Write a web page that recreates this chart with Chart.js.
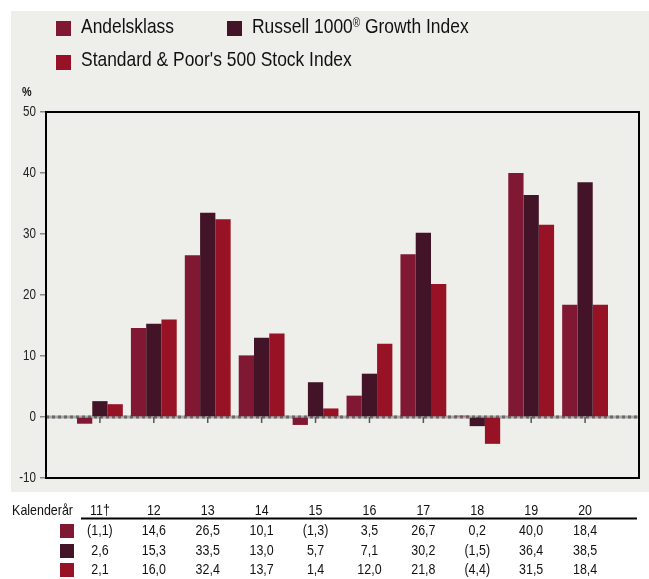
<!DOCTYPE html>
<html>
<head>
<meta charset="utf-8">
<title>Kalenderårsavkastning</title>
<script src="https://cdn.jsdelivr.net/npm/chart.js@4.4.1/dist/chart.umd.min.js"></script>
<style>
    html, body { margin: 0; padding: 0; background: #fff; }
    #wrap { position: relative; width: 649px; height: 579px; }
</style>
</head>
<body>
<div id="wrap"><canvas id="returnsChart" width="649" height="579"></canvas></div>
<script>
// Kalenderår and returns (%) per series
const years = ['11†', '12', '13', '14', '15', '16', '17', '18', '19', '20'];
const seriesNames = ['Andelsklass', 'Russell 1000® Growth Index', "Standard & Poor's 500 Stock Index"];
const andelsklass = [-1.1, 14.6, 26.5, 10.1, -1.3, 3.5, 26.7, 0.2, 40.0, 18.4];
const russell1000Growth = [2.6, 15.3, 33.5, 13.0, 5.7, 7.1, 30.2, -1.5, 36.4, 38.5];
const sp500 = [2.1, 16.0, 32.4, 13.7, 1.4, 12.0, 21.8, -4.4, 31.5, 18.4];
const yTicks = [50, 40, 30, 20, 10, 0, -10];

const seriesColors = ['#801733', '#431428', '#971224'];
const FONT = '"Liberation Sans", Arial, sans-serif';
const NARROW = 0.83; // no narrow face installed, squeeze text instead

// 1,1 style with brackets for negatives
function fmt(v) {
    const s = Math.abs(v).toFixed(1).replace('.', ',');
    return v < 0 ? '(' + s + ')' : s;
}

// draws condensed text, returns its drawn width
function drawText(ctx, text, x, y, font, align, baseline) {
    ctx.save();
    ctx.font = font;
    ctx.textAlign = align || 'left';
    ctx.textBaseline = baseline || 'alphabetic';
    ctx.translate(x, y);
    ctx.scale(NARROW, 1);
    ctx.fillText(text, 0, 0);
    const w = ctx.measureText(text).width * NARROW;
    ctx.restore();
    return w;
}

const decorPlugin = {
    id: 'decor',
    beforeDraw(chart) {
        const ctx = chart.ctx;
        ctx.save();
        ctx.fillStyle = '#ffffff';
        ctx.fillRect(0, 0, chart.width, chart.height);
        ctx.fillStyle = '#eeeeea';
        ctx.fillRect(11, 11, 638, 481);
        ctx.restore();
    },
    beforeDatasetsDraw(chart) {
        const ctx = chart.ctx;
        const area = chart.chartArea;
        const x = chart.scales.x;
        const y = chart.scales.y;
        const y0 = y.getPixelForValue(0);
        ctx.save();
        // zero line
        ctx.lineWidth = 3;
        ctx.strokeStyle = '#a9a9a7';
        ctx.beginPath();
        ctx.moveTo(area.left, y0);
        ctx.lineTo(area.right, y0);
        ctx.stroke();
        ctx.setLineDash([3, 3]);
        ctx.strokeStyle = '#6a6a6a';
        ctx.stroke();
        ctx.setLineDash([]);
        // category ticks
        ctx.lineWidth = 1.5;
        ctx.strokeStyle = '#555';
        years.forEach((_, i) => {
            const px = x.getPixelForValue(i);
            ctx.beginPath();
            ctx.moveTo(px, y0);
            ctx.lineTo(px, y0 + 6);
            ctx.stroke();
        });
        ctx.restore();

        // y tick labels
        ctx.fillStyle = '#222';
        y.ticks.forEach(t => {
            drawText(ctx, String(t.value), area.left - 10, y.getPixelForValue(t.value), '14px ' + FONT, 'right', 'middle');
        });
    },
    afterDraw(chart) {
        const ctx = chart.ctx;
        const area = chart.chartArea;
        const x = chart.scales.x;
        ctx.save();

        // plot frame
        ctx.lineWidth = 2;
        ctx.strokeStyle = '#000';
        ctx.strokeRect(area.left, area.top, area.right - area.left, area.bottom - area.top);

        // legend
        const legendPos = [[56, 21, 33], [227, 21, 33], [56, 55, 66]];
        seriesNames.forEach((name, i) => {
            const [bx, by, base] = legendPos[i];
            ctx.fillStyle = seriesColors[i];
            ctx.fillRect(bx, by, 15, 15);
            ctx.fillStyle = '#111';
            let tx = bx + 25;
            const parts = name.split('®');
            tx += drawText(ctx, parts[0], tx, base, '21px ' + FONT);
            if (parts.length > 1) {
                tx += drawText(ctx, '®', tx, base - 6, '12px ' + FONT);
                drawText(ctx, parts[1], tx, base, '21px ' + FONT);
            }
        });

        // unit label
        ctx.fillStyle = '#111';
        drawText(ctx, '%', 22, 96, 'bold 13px ' + FONT);

        // table under the chart
        const tf = '15px ' + FONT;
        drawText(ctx, 'Kalenderår', 73, 511, tf, 'right', 'middle');
        years.forEach((yr, i) => drawText(ctx, yr, x.getPixelForValue(i), 511, tf, 'center', 'middle'));

        ctx.lineWidth = 2;
        ctx.strokeStyle = '#000';
        ctx.beginPath();
        ctx.moveTo(81, 518.5);
        ctx.lineTo(637, 518.5);
        ctx.stroke();

        const rows = [andelsklass, russell1000Growth, sp500];
        const rowY = [531, 551, 570];
        rows.forEach((vals, r) => {
            ctx.fillStyle = seriesColors[r];
            ctx.fillRect(60, rowY[r] - 7, 14, 14);
            ctx.fillStyle = '#111';
            vals.forEach((v, i) => drawText(ctx, fmt(v), x.getPixelForValue(i), rowY[r], tf, 'center', 'middle'));
        });
        ctx.restore();
    }
};

document.addEventListener("DOMContentLoaded", () => {
    const ctx = document.getElementById('returnsChart').getContext('2d');

    const toPoints = vals => vals.map((v, i) => ({ x: i, y: v }));

    const data = {
        datasets: [
            { label: seriesNames[0], backgroundColor: seriesColors[0], data: toPoints(andelsklass) },
            { label: seriesNames[1], backgroundColor: seriesColors[1], data: toPoints(russell1000Growth) },
            { label: seriesNames[2], backgroundColor: seriesColors[2], data: toPoints(sp500) }
        ]
    };

    const config = {
        type: 'bar',
        data: data,
        options: {
            responsive: false,
            animation: false,
            devicePixelRatio: 1,
            categoryPercentage: 0.85,
            barPercentage: 1.0,
            layout: { padding: { top: 112, right: 10, bottom: 101, left: 0 } },
            scales: {
                x: {
                    type: 'linear',
                    display: false,
                    offset: false,
                    min: -1,
                    max: years.length,
                    ticks: { stepSize: 1 }
                },
                y: {
                    min: Math.min(...yTicks),
                    max: Math.max(...yTicks),
                    afterFit: scale => { scale.width = 46; },
                    border: { display: false },
                    grid: { drawOnChartArea: false, drawTicks: true, tickLength: 6, color: '#888', lineWidth: 1.5 },
                    ticks: { stepSize: 10, display: false }
                }
            },
            plugins: {
                legend: { display: false },
                tooltip: { enabled: false }
            }
        },
        plugins: [decorPlugin]
    };

    new Chart(ctx, config);
});
</script>
</body>
</html>
